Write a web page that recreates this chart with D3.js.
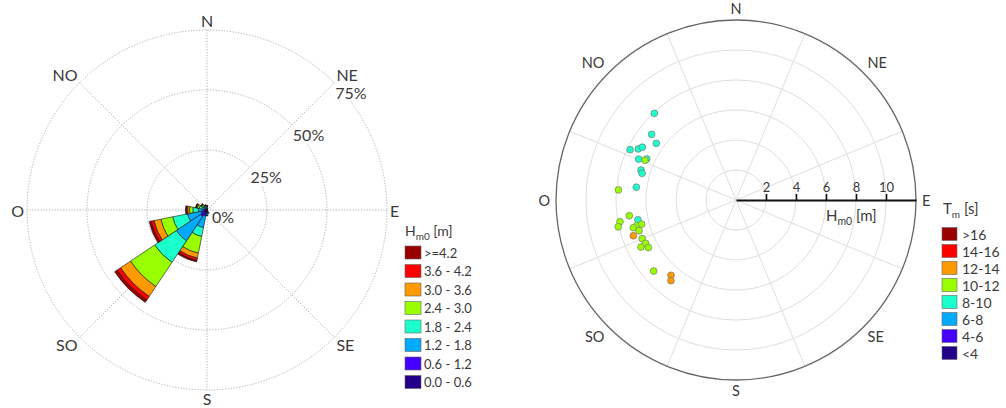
<!DOCTYPE html>
<html>
<head>
<meta charset="utf-8">
<script src="https://cdn.jsdelivr.net/npm/d3@7"></script>
<style>
  body { margin: 0; background: #fff; }
  svg { display: block; font-family: Lato, "Open Sans", sans-serif; }
  text { fill: #3a3a3a; }
</style>
</head>
<body>
<div class="chart"></div>
<script>
// Wind rose: 16 direction sectors, frequency (%) per Hm0 class
var sectors = [0, 22.5, 45, 67.5, 90, 112.5, 135, 157.5, 180, 202.5, 225, 247.5, 270, 292.5, 315, 337.5];
var h00_06 = [0.3, 0.2, 0.1, 0.1, 0.1, 0.1, 0.2, 0.4, 0.5, 0.8, 1.25, 0.8, 0.6, 0.4, 0.3, 0.3];
var h06_12 = [0.4, 0.3, 0.1, 0.1, 0.1, 0.1, 0.3, 0.8, 1.0, 1.7, 2.1, 1.7, 0.9, 0.7, 0.5, 0.4];
var h12_18 = [0.4, 0.2, 0, 0, 0, 0, 0.1, 0.4, 0.8, 5.0, 12.1, 5.8, 2.1, 1.2, 0.8, 0.5];
var h18_24 = [0.3, 0.1, 0, 0, 0, 0, 0, 0, 0.1, 3.75, 10.8, 6.3, 2.3, 1.0, 0.6, 0.4];
var h24_30 = [0.2, 0, 0, 0, 0, 0, 0, 0, 0, 7.1, 12.1, 5.0, 1.4, 0.8, 0.5, 0.3];
var h30_36 = [0.1, 0, 0, 0, 0, 0, 0, 0, 0, 2.1, 5.0, 2.9, 0.8, 0.4, 0.3, 0.1];
var h36_42 = [0.1, 0, 0, 0, 0, 0, 0, 0, 0, 1.0, 1.7, 1.25, 0.5, 0.2, 0.1, 0.1];
var h42 = [0.1, 0, 0, 0, 0, 0, 0, 0, 0, 0.6, 1.25, 0.8, 0.4, 0.2, 0.1, 0.1];
var hClasses = ["0.0 - 0.6", "0.6 - 1.2", "1.2 - 1.8", "1.8 - 2.4", "2.4 - 3.0", "3.0 - 3.6", "3.6 - 4.2", ">=4.2"];
var pctTicks = [0, 25, 50, 75];

// Scatter: wave direction (deg), Hm0 (m), Tm (s)
var ptDir = [316.7, 307.9, 305.4, 295.4, 297.6, 299.4, 292.8, 294.7, 293.6, 287.5, 285.9, 274.9, 277.3, 261.6, 259.4,
             257.2, 258.6, 255.5, 255.6, 254.9, 252.4, 250.8, 247.6, 244.4, 243.7, 241.5, 229.2, 220.8, 218.9];
var ptHm0 = [7.94, 7.13, 6.52, 7.82, 7.35, 7.17, 7.04, 6.55, 6.62, 6.64, 6.51, 7.87, 6.70, 7.19, 7.87,
             8.05, 6.67, 6.84, 6.49, 7.09, 6.78, 7.25, 6.76, 6.68, 7.07, 6.65, 7.25, 6.63, 6.91];
var ptTm = [9.4, 9.3, 9.5, 9.2, 9.6, 9.4, 9.5, 9.6, 10.4, 9.5, 9.6, 10.6, 9.7, 10.8, 10.9,
            11.0, 9.8, 10.7, 10.9, 11.2, 11.1, 12.4, 11.0, 10.9, 11.1, 11.0, 11.3, 12.6, 12.8];
var tmClasses = ["<4", "4-6", "6-8", "8-10", "10-12", "12-14", "14-16", ">16"];
var hmTicks = [2, 4, 6, 8, 10];

var compass = [["N", 0], ["NE", 45], ["E", 90], ["SE", 135], ["S", 180], ["SO", 225], ["O", 270], ["NO", 315]];
var palette = ["#220088", "#4400ff", "#00aaff", "#1affcc", "#99ff00", "#ff9900", "#ff0000", "#990000"];

var W = 1006, H = 408;
var svg = d3.select(".chart").append("svg")
  .attr("width", W).attr("height", H);
svg.append("rect").attr("width", W).attr("height", H).attr("fill", "#fff");

var rad = function(deg) { return deg * Math.PI / 180; };

// direction names just outside the outer circle
function compassLabels(g, R, size, gap) {
  compass.forEach(function(c) {
    var a = rad(c[1]), r = R + gap;
    var s = Math.sin(a), co = Math.cos(a);
    var y = -r * co;
    // south side: put baseline one cap height below the anchor point
    if (co < -0.1) y += 0.72 * size;
    g.append("text")
      .attr("x", r * s).attr("y", y)
      .attr("text-anchor", s > 0.1 ? "start" : (s < -0.1 ? "end" : "middle"))
      .attr("dominant-baseline", co >= -0.1 && co <= 0.1 ? "central" : "auto")
      .style("font-size", size + "px")
      .text(c[0]);
  });
}

// ---------------- Left: wind rose ----------------
var cx1 = 207, cy1 = 210, R1 = 180;
var rose = svg.append("g").attr("transform", "translate(" + cx1 + "," + cy1 + ")");
var rPct = d3.scaleLinear().domain([0, 75]).range([0, R1]);

// grid
rose.selectAll(".ring").data(pctTicks.slice(1)).join("circle")
  .attr("r", d => rPct(d))
  .attr("fill", "none").attr("stroke", "#9a9a9a")
  .attr("stroke-width", 0.8).attr("stroke-dasharray", "1.2,1.6");
rose.selectAll(".spoke").data(compass).join("line")
  .attr("x1", 0).attr("y1", 0)
  .attr("x2", d => R1 * Math.sin(rad(d[1])))
  .attr("y2", d => -R1 * Math.cos(rad(d[1])))
  .attr("stroke", "#9a9a9a").attr("stroke-width", 0.8).attr("stroke-dasharray", "1.2,1.6");

// stacked sectors
var series = [h00_06, h06_12, h12_18, h18_24, h24_30, h30_36, h36_42, h42];
var segs = [];
sectors.forEach(function(dir, i) {
  var acc = 0;
  series.forEach(function(s, k) {
    if (s[i] > 0) segs.push({dir: dir, k: k, r0: acc, r1: acc + s[i]});
    acc += s[i];
  });
});
var arc = d3.arc()
  .innerRadius(d => rPct(d.r0))
  .outerRadius(d => rPct(d.r1))
  .startAngle(d => rad(d.dir - 11.25))
  .endAngle(d => rad(d.dir + 11.25));
rose.selectAll(".seg").data(segs).join("path")
  .attr("d", arc)
  .attr("fill", d => palette[d.k])
  .attr("stroke", "#111").attr("stroke-width", 0.6);

// ring labels with white backing
var a45 = rad(45);
pctTicks.forEach(function(p) {
  var x = rPct(p) * Math.sin(a45) + (p === 0 ? 5 : 1), y = -rPct(p) * Math.cos(a45) + (p === 0 ? 0 : 3);
  var t = rose.append("text")
    .attr("x", x).attr("y", y)
    .attr("dominant-baseline", "hanging")
    .style("font-size", "16px")
    .text(p + "%");
  if (p > 0) {
    var bb = t.node().getBBox();
    rose.insert("rect", "text").attr("x", bb.x - 1).attr("y", bb.y).attr("width", bb.width + 2).attr("height", bb.height)
      .attr("fill", "#fff");
  }
});
compassLabels(rose, R1, 16, 3);

// legend
var lg1 = svg.append("g").attr("transform", "translate(405,0)");
var t1 = lg1.append("text").attr("x", 0).attr("y", 236).style("font-size", "14px");
t1.append("tspan").text("H");
t1.append("tspan").attr("dy", 4).style("font-size", "10px").text("m0");
t1.append("tspan").attr("dy", -4).text(" [m]");
var legRows1 = hClasses.map((c, k) => ({c: c, k: k})).reverse();
lg1.selectAll(".sw").data(legRows1).join("rect")
  .attr("x", 0).attr("y", (d, i) => 246 + i * 18.5)
  .attr("width", 16).attr("height", 13)
  .attr("fill", d => palette[d.k]).attr("stroke", "#666").attr("stroke-width", 0.6);
lg1.selectAll(".lt").data(legRows1).join("text")
  .attr("x", 19).attr("y", (d, i) => 252.5 + i * 18.5)
  .attr("dominant-baseline", "central")
  .style("font-size", "13px")
  .text(d => d.c);

// ---------------- Right: Hm0 scatter ----------------
var cx2 = 736, cy2 = 200, R2 = 180;
var sc = svg.append("g").attr("transform", "translate(" + cx2 + "," + cy2 + ")");
var rH = d3.scaleLinear().domain([0, 12]).range([0, R2]);
var tmColor = d3.scaleThreshold().domain([4, 6, 8, 10, 12, 14, 16]).range(palette);

sc.selectAll(".ring").data(hmTicks).join("circle")
  .attr("r", d => rH(d)).attr("fill", "none").attr("stroke", "#dedede").attr("stroke-width", 1);
sc.selectAll(".spoke").data(d3.range(8).map(i => 22.5 + 45 * i)).join("line")
  .attr("x1", 0).attr("y1", 0)
  .attr("x2", d => R2 * Math.sin(rad(d)))
  .attr("y2", d => -R2 * Math.cos(rad(d)))
  .attr("stroke", "#dedede").attr("stroke-width", 1);
sc.append("circle").attr("r", R2).attr("fill", "none").attr("stroke", "#666").attr("stroke-width", 1.3);

var pts = ptDir.map((d, i) => ({dir: d, h: ptHm0[i], tm: ptTm[i]}));
sc.selectAll(".pt").data(pts).join("circle")
  .attr("cx", d => rH(d.h) * Math.sin(rad(d.dir)))
  .attr("cy", d => -rH(d.h) * Math.cos(rad(d.dir)))
  .attr("r", 3.4)
  .attr("fill", d => tmColor(d.tm))
  .attr("stroke", "#7a7a7a").attr("stroke-width", 0.7);

var ax = sc.append("g").call(d3.axisTop(rH).tickValues(hmTicks).tickSize(6).tickSizeOuter(0).tickFormat(d3.format("d")));
ax.select(".domain").attr("stroke", "#111").attr("stroke-width", 2.2);
ax.selectAll(".tick line").attr("stroke", "#111").attr("stroke-width", 1.6);
ax.selectAll(".tick text").style("font-size", "13px").style("font-family", "Lato, sans-serif").attr("fill", "#3a3a3a").attr("dy", "0.1em");

var t2 = sc.append("text").attr("x", rH(6)).attr("y", 21).style("font-size", "15px");
t2.append("tspan").text("H");
t2.append("tspan").attr("dy", 4).style("font-size", "10.5px").text("m0");
t2.append("tspan").attr("dy", -4).text(" [m]");
compassLabels(sc, R2, 14.5, 6);

var lg2 = svg.append("g").attr("transform", "translate(942,0)");
var t3 = lg2.append("text").attr("x", 1).attr("y", 214).style("font-size", "15px");
t3.append("tspan").text("T");
t3.append("tspan").attr("dy", 4).style("font-size", "10px").text("m");
t3.append("tspan").attr("dy", -4).text(" [s]");
var legRows2 = tmClasses.map((c, k) => ({c: c, k: k})).reverse();
lg2.selectAll(".sw").data(legRows2).join("rect")
  .attr("x", 0).attr("y", (d, i) => 227.5 + i * 17)
  .attr("width", 15).attr("height", 13)
  .attr("fill", d => palette[d.k]).attr("stroke", "#666").attr("stroke-width", 0.6);
lg2.selectAll(".lt").data(legRows2).join("text")
  .attr("x", 20).attr("y", (d, i) => 234 + i * 17)
  .attr("dominant-baseline", "central")
  .style("font-size", "14px")
  .text(d => d.c);
</script>
</body>
</html>
